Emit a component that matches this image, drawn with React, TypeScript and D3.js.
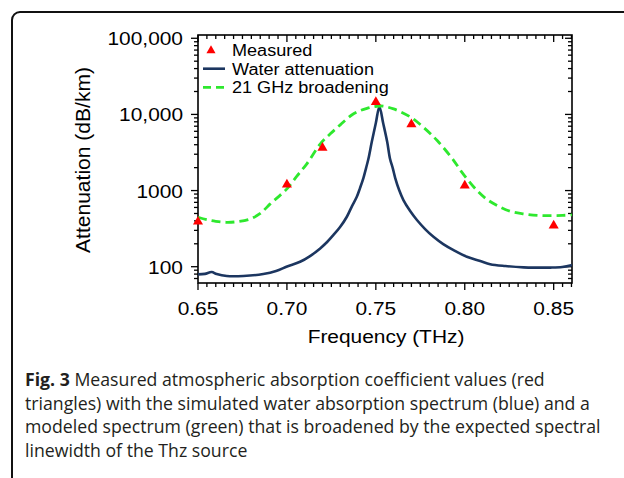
import { useEffect, useRef } from 'react'
import * as d3 from 'd3'

// measured points (red triangles)
const measuredFreq = [0.65, 0.7, 0.72, 0.75, 0.77, 0.8, 0.85]
const measuredAtt = [390, 1200, 3650, 14500, 7400, 1160, 347]

// simulated water attenuation (blue)
const waterFreq = [
  0.65, 0.6539, 0.6577, 0.6605, 0.6662, 0.6755, 0.6867, 0.6939, 0.7001, 0.7074, 0.713, 0.7187, 0.7226,
  0.7261, 0.7299, 0.7337, 0.7366, 0.7393, 0.7411, 0.743, 0.7445, 0.7458, 0.7477, 0.75, 0.752,
  0.7541, 0.7564, 0.758, 0.7595, 0.7609, 0.7631, 0.7655, 0.7693, 0.7731, 0.7777, 0.7824, 0.7879,
  0.7937, 0.8012, 0.8087, 0.8143, 0.8228, 0.8331, 0.8408, 0.8481, 0.8548, 0.8605,
]
const waterAtt = [
  79.3, 80.5, 85.1, 80.1, 75.4, 75.4, 80.1, 87.7, 100.5, 116, 138, 174, 211,
  260, 332, 453, 626, 829, 1078, 1459, 1975, 2592, 4335, 7697, 12600,
  7697, 4335, 2592, 1975, 1459, 1015, 750, 538, 410, 312, 247, 198,
  165, 135, 119, 108, 102, 98, 97.3, 97.3, 99, 105,
]

// 21 GHz broadened model (green dashed)
const broadFreq = [
  0.65, 0.655, 0.66, 0.666, 0.672, 0.6793, 0.685, 0.6906, 0.695, 0.7, 0.7056, 0.7112, 0.7188, 0.7244,
  0.73, 0.7375, 0.745, 0.7526, 0.76, 0.7695, 0.777, 0.7845, 0.7938, 0.7977, 0.8052, 0.812, 0.8183,
  0.826, 0.8334, 0.841, 0.8484, 0.855, 0.8603,
]
const broadAtt = [
  446, 415, 395, 383, 390, 423, 500, 668, 820, 1052, 1550, 2245, 4115, 5560,
  7300, 10200, 12000, 12900, 11800, 9220, 6700, 4540, 2480, 1830, 1105, 780, 635,
  530, 493, 472, 469, 472, 480,
]

const xTicks = [0.65, 0.7, 0.75, 0.8, 0.85]
const yTicks = [100, 1000, 10000, 100000]
const yTickLabels = ['100', '1000', '10,000', '100,000']
const legendLabels = ['Measured', 'Water attenuation', '21 GHz broadening']
const captionLines = [
  ['Fig. 3', ' Measured atmospheric absorption coefficient values (red'],
  ['', 'triangles) with the simulated water absorption spectrum (blue) and a'],
  ['', 'modeled spectrum (green) that is broadened by the expected spectral'],
  ['', 'linewidth of the Thz source'],
]

const W = 624
const H = 478
const BLUE = '#1c3660'
const GREEN = '#2ee82e'
const RED = '#ff0000'
const FONT = 'Liberation Sans, Arial, Helvetica, sans-serif'
const SX = 1.1 // the figure's lettering is a bit wider than Arial

export default function App() {
  const ref = useRef<SVGSVGElement | null>(null)

  useEffect(() => {
    const svg = d3.select(ref.current)
    svg.selectAll('*').remove()

    const left = 198
    const right = 572
    const top = 35
    const bottom = 283

    const x = d3.scaleLinear().domain([0.65, 0.8603]).range([left, right])
    const y = d3.scaleLog().domain([61.1, 110400]).range([bottom, top])

    svg.append('rect').attr('width', W).attr('height', H).attr('fill', '#fff')

    // outer rounded frame (clipped by the page)
    svg
      .append('rect')
      .attr('x', 12)
      .attr('y', 12)
      .attr('width', 800)
      .attr('height', 700)
      .attr('rx', 8)
      .attr('fill', 'none')
      .attr('stroke', '#111')
      .attr('stroke-width', 2)

    svg
      .append('clipPath')
      .attr('id', 'plot-clip')
      .append('rect')
      .attr('x', left)
      .attr('y', top)
      .attr('width', right - left)
      .attr('height', bottom - top)

    // minor ticks
    const xMinor = d3.range(0, 43).map((i) => 0.65 + i * 0.005).filter((v) => v <= 0.8603)
    const yMinor: number[] = []
    ;[10, 100, 1000, 10000, 100000].forEach((d) => {
      for (let k = 1; k < 10; k++) {
        const v = d * k
        if (v >= 61.1 && v <= 110400) yMinor.push(v)
      }
    })

    const ticks = svg.append('g').attr('stroke', '#000').attr('stroke-width', 1.3)
    xMinor.forEach((v) => {
      const major = xTicks.some((t) => Math.abs(t - v) < 1e-6)
      const len = major ? 7 : 4
      ticks.append('line').attr('x1', x(v)).attr('x2', x(v)).attr('y1', bottom).attr('y2', bottom + len)
      ticks.append('line').attr('x1', x(v)).attr('x2', x(v)).attr('y1', top).attr('y2', top + len)
    })
    yMinor.forEach((v) => {
      const major = yTicks.includes(v)
      const len = major ? 7 : 4
      ticks.append('line').attr('x1', left - len).attr('x2', left).attr('y1', y(v)).attr('y2', y(v))
      ticks.append('line').attr('x1', right - len).attr('x2', right).attr('y1', y(v)).attr('y2', y(v))
    })

    svg
      .append('rect')
      .attr('x', left)
      .attr('y', top)
      .attr('width', right - left)
      .attr('height', bottom - top)
      .attr('fill', 'none')
      .attr('stroke', '#000')
      .attr('stroke-width', 1.6)

    // tick labels
    svg
      .append('g')
      .selectAll('text')
      .data(xTicks)
      .join('text')
      .attr('transform', (d) => `translate(${x(d)},315) scale(${SX},1)`)
      .attr('text-anchor', 'middle')
      .attr('font-family', FONT)
      .attr('font-size', 19)
      .text((d) => d.toFixed(2))

    svg
      .append('g')
      .selectAll('text')
      .data(yTicks)
      .join('text')
      .attr('transform', (d) => `translate(183,${y(d) + 7}) scale(${SX},1)`)
      .attr('text-anchor', 'end')
      .attr('font-family', FONT)
      .attr('font-size', 19)
      .text((d, i) => yTickLabels[i])

    svg
      .append('text')
      .attr('transform', `translate(${(left + right) / 2 + 1},343) scale(${SX},1)`)
      .attr('text-anchor', 'middle')
      .attr('font-family', FONT)
      .attr('font-size', 19)
      .text('Frequency (THz)')

    svg
      .append('text')
      .attr('transform', `translate(90, 160) rotate(-90) scale(1.08,1)`)
      .attr('text-anchor', 'middle')
      .attr('font-family', FONT)
      .attr('font-size', 19.5)
      .text('Attenuation (dB/km)')

    // curves
    const plot = svg.append('g').attr('clip-path', 'url(#plot-clip)')
    const line = d3
      .line<[number, number]>()
      .x((d) => x(d[0]))
      .y((d) => y(d[1]))
      .curve(d3.curveCatmullRom.alpha(0.5))

    plot
      .append('path')
      .attr('d', line(waterFreq.map((f, i) => [f, waterAtt[i]])))
      .attr('fill', 'none')
      .attr('stroke', BLUE)
      .attr('stroke-width', 2.6)
      .attr('stroke-linejoin', 'round')

    plot
      .append('path')
      .attr('d', line(broadFreq.map((f, i) => [f, broadAtt[i]])))
      .attr('fill', 'none')
      .attr('stroke', GREEN)
      .attr('stroke-width', 2.8)
      .attr('stroke-dasharray', '9,5')

    const tri = d3.symbol(d3.symbolTriangle, 44)
    svg
      .append('g')
      .selectAll('path')
      .data(measuredFreq)
      .join('path')
      .attr('d', tri())
      .attr('transform', (d, i) => `translate(${x(d)},${y(measuredAtt[i])})`)
      .attr('fill', RED)

    // legend
    const lg = svg.append('g').attr('font-family', FONT).attr('font-size', 16)
    lg.append('path').attr('d', d3.symbol(d3.symbolTriangle, 36)()).attr('transform', 'translate(211,50.5)').attr('fill', RED)
    lg.append('line').attr('x1', 203).attr('x2', 225).attr('y1', 68.7).attr('y2', 68.7).attr('stroke', BLUE).attr('stroke-width', 2.6)
    lg
      .append('line')
      .attr('x1', 203)
      .attr('x2', 226)
      .attr('y1', 87.3)
      .attr('y2', 87.3)
      .attr('stroke', GREEN)
      .attr('stroke-width', 2.8)
      .attr('stroke-dasharray', '8,5')
    legendLabels.forEach((t, i) => {
      lg.append('text').attr('transform', `translate(232,${56 + i * 18.7}) scale(1.13,1)`).text(t)
    })

    // caption
    const cap = svg
      .append('g')
      .attr('font-family', 'Open Sans, Noto Sans, sans-serif')
      .attr('font-size', 17.7)
      .attr('fill', '#231f20')
    captionLines.forEach(([b, rest], i) => {
      const t = cap.append('text').attr('x', 25).attr('y', 386 + i * 23.7)
      if (b) t.append('tspan').attr('font-weight', 'bold').text(b)
      t.append('tspan').text(rest)
    })
  }, [])

  return (
    <svg
      ref={ref}
      width={W}
      height={H}
      viewBox={`0 0 ${W} ${H}`}
      style={{ position: 'absolute', left: 0, top: 0, display: 'block' }}
    />
  )
}
